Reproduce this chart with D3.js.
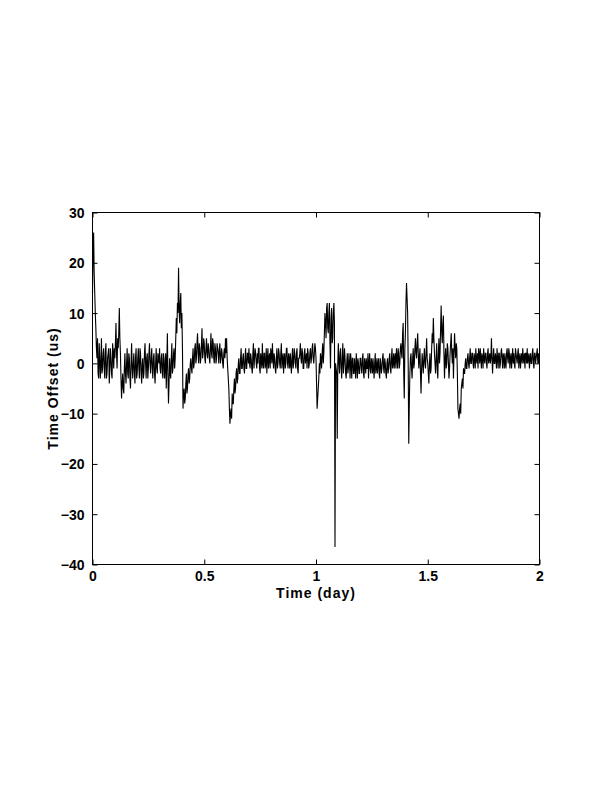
<!DOCTYPE html>
<html>
<head>
<meta charset="utf-8">
<script src="https://cdn.jsdelivr.net/npm/d3@7"></script>
<style>
  html, body { margin: 0; padding: 0; background: #fff; }
  svg { display: block; }
  text { font-family: "Liberation Sans", Arial, Helvetica, sans-serif; font-weight: bold; fill: #000; }
</style>
</head>
<body>
<svg id="chart" width="612" height="792"></svg>
<script>
// ---- data ----
// samples every 0.005 day, row r starts at t = r*0.1
const timeStep = 0.005;
const offsetRows = [
  [14, 26, 14, 7, 1, -2, 4, -3, 5, -1, 3, -3, 4, -2, 2, -4, 3, -2, 4, -1],
  [1, 8, -1, 3, 11, 2, -7, -2, -6, 2, -4, 3, -3, 1, -5, 4, -3, 2, -4, 3],
  [-2, 3, -3, 2, -4, 1, -2, 4, -3, 2, -1, 4, -2, 3, -3, 2, -4, 3, -2, 1],
  [3, -2, 2, -3, 1, -1, -5, 6, -8, 1, -3, 4, -1, 3, 1, 9, 12, 19, 8, 14],
  [10, -9, -5, -7, -2, -5, -1, -3, 1, -2, 3, 0, 4, 1, 6, 0, 3, 1, 7, 2],
  [4, 0, 5, 1, 3, 0, 6, 1, 4, 0, 3, 1, 3, 0, 4, 1, 2, -1, 3, 5],
  [5, -1, -5, -12, -9, -6, -8, -3, -5, -1, -3, 1, -2, 3, -1, 2, -2, 3, -1, 2],
  [3, -1, 1, -2, 4, 1, 2, -1, 0, 3, -2, 1, 4, -1, 2, 0, -2, 3, 1, -1],
  [2, 4, -1, 1, -2, 3, 0, 2, -1, 4, 1, -2, 2, 0, 3, -1, 1, 2, -2, 3],
  [0, 2, -1, 3, -2, 1, 4, 0, 2, -1, 3, 1, -1, 2, 0, 3, 1, 4, 0, 4],
  [1, -9, -5, 0, 2, -1, 4, 2, 10, 5, 12, 6, 12, -1, 11, 5, 12, -36.5, -1, -15],
  [4, -2, 3, -3, 4, 0, 1, -3, 2, -1, 0, 2, -3, 1, -2, -1, 2, -3, 0, -2],
  [1, -2, 2, -3, 0, 1, -1, -3, 2, -2, 0, 1, -3, 2, -1, -2, 1, -3, 0, -1],
  [2, -2, 0, -3, 1, -1, 2, -2, 3, 0, -1, 2, 3, -1, 2, 0, 4, 1, 8, -7],
  [6, 16, 10, -16, -2, 2, -3, 3, 0, 5, 1, 6, -1, 3, -6, 2, -2, 3, -1, 5],
  [0, -4, 2, -1, 6, 9, 2, -2, 4, -3, 5, 2, 11.5, 4, 9.5, -3, 3, 0, 3, -3],
  [2, 6, 0, -3, 6, 1, 3, -9, -11, -8, -5, -3, -1, -2, 1, -1, 2, -1, 3, 0],
  [2, -1, 1, 3, 0, -1, 2, 3, -1, 1, 3, 0, 2, -1, 3, 1, 0, 5, -2, 3],
  [0, 1, 3, -1, 2, 0, 3, -1, 1, 2, -1, 3, 0, 2, 1, -1, 3, 2, -1, 2],
  [0, 3, 1, -1, 2, 3, 0, -1, 2, 3, 1, -1, 2, 0, 3, -1, 2, 1, 3, 2],
  [1]
];
// samples half-way between those above (t = r*0.1 + k*0.005 + 0.0025)
const offsetMidRows = [
  [22, 18, 10, 3, 5, -3, 1, 0, -2, 2, -1, 2, -3, 1, 3, -1, 1, -3, 2, 3],
  [4, 2, 5, 6, 5, -3, -4, -5, -1, -2, 0, -2, 2, -3, 0, -1, 0, -2, 1, -3],
  [1, -1, 3, -2, 0, -3, 2, 0, 1, -3, 2, 0, 1, -1, 1, -2, 0, -1, 2, 0],
  [-1, 1, -2, 2, -3, 2, 0, -2, -4, -2, 1, -2, 2, -1, 5, 6, 10, 11, 12, 7],
  [3, -6, -8, -4, -6, -2, -4, 0, -1, 1, -1, 3, 0, 4, 2, 4, 0, 4, 1, 5],
  [1, 3, 2, 4, 1, 3, 2, 5, 1, 4, 0, 4, 2, 3, 0, 3, 0, 2, 1, 2],
  [1, -3, -9, -10, -11, -8, -5, -6, -2, -4, 0, -2, 1, -1, 1, -1, 1, -1, 2, 0],
  [0, 2, -1, 2, -1, 3, 0, 2, 3, -1, 2, -1, 0, 2, -1, 3, 1, -1, 2, 3],
  [0, 1, 2, -1, 1, -1, 3, 0, 2, -1, 2, 1, -1, 3, 0, 2, -1, 0, 1, -1],
  [3, 0, 2, -1, 1, 2, 1, 3, -1, 2, 0, 2, 3, -1, 2, 0, 3, 1, 2, 3],
  [-4, -7, -3, -2, 1, 2, 0, 6, 8, 11, 7, 10, 4, 9, 4, 10, 8, 0, -2, 0],
  [0, 2, -1, 1, -2, 3, -2, 0, -2, 2, -3, 0, 1, -2, 1, -3, 0, 1, -2, 1],
  [-1, 1, -2, 1, -2, -1, 2, 0, -1, 1, -2, -1, 0, -2, 1, 0, -2, 1, -2, 1],
  [-1, 1, -2, 0, -2, 1, -1, 1, -1, 2, 1, -1, 1, 3, -1, 3, 2, 6, -2, 3],
  [12, 13, 0, -8, 1, -1, 1, -1, 3, 2, 4, 2, 1, -2, -1, 0, 1, 0, 2, 1],
  [-2, 0, -2, 3, 4, 5, 0, 1, -1, 2, 0, 7, 6, 8, 2, 1, -1, 4, 0, -1],
  [4, 2, 3, 2, 3, 4, -2, -10, -9, -10, -4, -5, -2, 0, -1, 1, 0, 1, 0, 2],
  [0, 2, -1, 1, 2, 3, 0, 1, 2, -1, 1, 2, 0, 2, 0, 2, 1, 1, 1, 0],
  [2, -1, 1, 2, -1, 2, 1, 2, -1, 0, 2, 1, 3, -1, 2, 1, 0, 0, 3, 1],
  [2, -1, 2, 1, 0, 1, 2, 2, 0, 0, 2, 1, 0, 2, 0, 2, 0, 2, 0, 0]
];
const xTicks = [0, 0.5, 1, 1.5, 2];
const yTicks = [-40, -30, -20, -10, 0, 10, 20, 30];
const xLabel = "Time (day)";
const yLabel = "Time Offset (us)";

// ---- build the series (merge the two sample sets in time order) ----
const series = [];
offsetRows.forEach((row, r) => {
  row.forEach((v, k) => {
    const t = r * 0.1 + k * timeStep;
    series.push({ t: t, v: v });
    const mids = offsetMidRows[r];
    if (mids && mids[k] !== undefined) series.push({ t: t + timeStep / 2, v: mids[k] });
  });
});

// ---- layout ----
const svg = d3.select("#chart");
const plot = { left: 92.5, top: 212.5, right: 539.5, bottom: 564.5 };

const x = d3.scaleLinear().domain([0, 2]).range([plot.left, plot.right]);
const y = d3.scaleLinear().domain([-40, 30]).range([plot.bottom, plot.top]);

// data line
const line = d3.line().x(d => x(d.t)).y(d => y(d.v));
svg.append("path")
  .datum(series)
  .attr("d", line)
  .attr("fill", "none")
  .attr("stroke", "#000")
  .attr("stroke-width", 1.1)
  .attr("stroke-linejoin", "miter")
  .attr("stroke-miterlimit", 2);

// frame
svg.append("rect")
  .attr("x", plot.left).attr("y", plot.top)
  .attr("width", plot.right - plot.left).attr("height", plot.bottom - plot.top)
  .attr("fill", "none").attr("stroke", "#000").attr("stroke-width", 1);

const tickLen = 5;
const fontSize = 14;

// bottom axis (ticks inward) + mirror at top
const xAxisB = d3.axisBottom(x).tickValues(xTicks).tickSize(-tickLen).tickPadding(7)
  .tickFormat(d3.format("~g"));
const gxb = svg.append("g").attr("transform", `translate(0,${plot.bottom})`).call(xAxisB);
const xAxisT = d3.axisTop(x).tickValues(xTicks).tickSize(-tickLen).tickFormat("");
const gxt = svg.append("g").attr("transform", `translate(0,${plot.top})`).call(xAxisT);

// left axis + mirror at right
const yAxisL = d3.axisLeft(y).tickValues(yTicks).tickSize(-tickLen).tickPadding(8)
  .tickFormat(d3.format("~g"));
const gyl = svg.append("g").attr("transform", `translate(${plot.left},0)`).call(yAxisL);
const yAxisR = d3.axisRight(y).tickValues(yTicks).tickSize(-tickLen).tickFormat("");
const gyr = svg.append("g").attr("transform", `translate(${plot.right},0)`).call(yAxisR);

[gxb, gxt, gyl, gyr].forEach(g => {
  g.select(".domain").remove();
  g.selectAll(".tick line").attr("stroke", "#000").attr("stroke-width", 1);
  g.selectAll("text")
    .style("font-family", '"Liberation Sans", Arial, sans-serif')
    .style("font-weight", "bold")
    .attr("font-size", fontSize)
    .attr("fill", "#000");
});
gyl.selectAll("text").attr("dy", "0.36em");
gxb.selectAll("text").attr("dy", "0.71em");

// axis titles
svg.append("text")
  .attr("x", (plot.left + plot.right) / 2)
  .attr("y", 598)
  .attr("text-anchor", "middle")
  .attr("font-size", fontSize)
  .attr("letter-spacing", "1px")
  .text(xLabel);

svg.append("text")
  .attr("transform", `translate(58,${(plot.top + plot.bottom) / 2}) rotate(-90)`)
  .attr("text-anchor", "middle")
  .attr("font-size", fontSize)
  .attr("letter-spacing", "1px")
  .text(yLabel);
</script>
</body>
</html>
